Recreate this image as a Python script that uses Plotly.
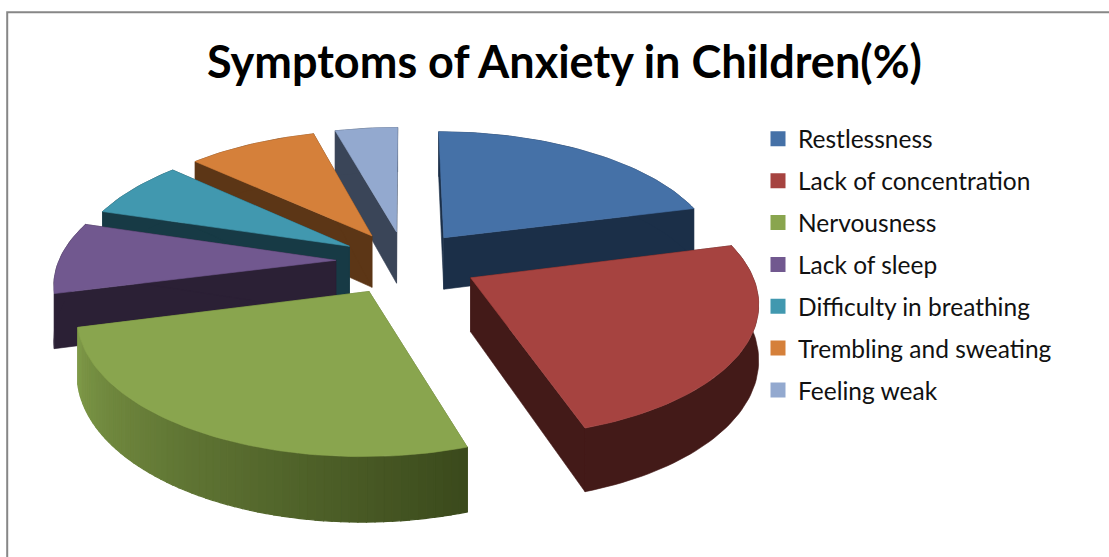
import math
import plotly.graph_objects as go

categories = ["Restlessness", "Lack of concentration", "Nervousness", "Lack of sleep",
              "Difficulty in breathing", "Trembling and sweating", "Feeling weak"]
values = [21, 24, 26, 8.7, 7.1, 8.9, 4.3]
pulls = [0.235, 0.265, 0.26, 0.25, 0.235, 0.235, 0.235]
top_colors = ["#4571a7", "#a64340", "#89a54e", "#71588f", "#4198af", "#d5803a", "#93a9cf"]
side_colors = ["#1b2f48", "#431a18", "#5d7234", "#2b2035", "#173a45", "#5c3616", "#3a4558"]
draw_order = [6, 5, 4, 0, 3, 1, 2]

CX, CY = 405, 261
RX, RY = 277, 129
K = 0.155
THICK = 53


def project(X, Y, down=0.0):
    p = 1 / (1 + K * Y)
    return CX + RX * X * p, CY - RY * Y * p + down * THICK * p


def poly(pts, color, fig, width=0.6):
    xs = [q[0] for q in pts] + [pts[0][0]]
    ys = [q[1] for q in pts] + [pts[0][1]]
    fig.add_trace(go.Scatter(x=xs, y=ys, mode="lines", fill="toself", fillcolor=color,
                             line=dict(color=color, width=width), showlegend=False,
                             hoverinfo="skip"))


def mix(a, b, t):
    ca = [int(a[i:i + 2], 16) for i in (1, 3, 5)]
    cb = [int(b[i:i + 2], 16) for i in (1, 3, 5)]
    return "#" + "".join(f"{round(u + (v - u) * t):02x}" for u, v in zip(ca, cb))


fig = go.Figure()
for name, col in zip(categories, top_colors):
    fig.add_trace(go.Scatter(x=[None], y=[None], mode="markers", name=name, legendgroup=name,
                             marker=dict(symbol="square", size=15, color=col)))

total = sum(values)
starts = [sum(values[:i]) / total * 2 * math.pi for i in range(len(values))]
for i in draw_order:
    a0 = starts[i]
    a1 = a0 + values[i] / total * 2 * math.pi
    mid = (a0 + a1) / 2
    ox, oy = pulls[i] * math.sin(mid), pulls[i] * math.cos(mid)
    n = max(6, int((a1 - a0) * 40))
    angs = [a0 + (a1 - a0) * j / n for j in range(n + 1)]
    rim = [(ox + math.sin(a), oy + math.cos(a)) for a in angs]
    apex = (ox, oy)
    # radial walls
    for e in (rim[0], rim[-1]):
        poly([project(*apex), project(*e), project(*e, 1), project(*apex, 1)], side_colors[i], fig)
    # outer wall
    if i == 2:
        for j in range(n):
            c = mix("#3b4a1c", "#7f9a48", j / (n - 1))
            poly([project(*rim[j]), project(*rim[j + 1]), project(*rim[j + 1], 1), project(*rim[j], 1)],
                 c, fig, width=1.2)
    else:
        poly([project(*r) for r in rim] + [project(*r, 1) for r in reversed(rim)], side_colors[i], fig)
    # top face
    poly([project(*apex)] + [project(*r) for r in rim], top_colors[i], fig)

fig.update_layout(
    width=1109, height=557, margin=dict(l=0, r=0, t=0, b=0),
    paper_bgcolor="white", plot_bgcolor="white",
    font=dict(family="Lato", color="#111111"),
    title=dict(text="<b>Symptoms of Anxiety in Children(%)</b>", x=0.509, xanchor="center",
               y=0.888, yanchor="middle", font=dict(family="Lato", size=45, color="black")),
    xaxis=dict(range=[0, 1109], visible=False, fixedrange=True),
    yaxis=dict(range=[557, 0], visible=False, fixedrange=True),
    legend=dict(x=0.6835, y=0.791, xanchor="left", yanchor="top", font=dict(size=24.5),
                tracegroupgap=7, traceorder="grouped", itemclick=False, bgcolor="rgba(0,0,0,0)"),
    shapes=[dict(type="rect", xref="paper", yref="paper", x0=0.0065, x1=1.02, y0=-0.03, y1=0.978,
                 line=dict(color="#878787", width=2))],
)
fig.write_html("out.html", config={"displayModeBar": False},
               post_script="document.body.style.margin='0';")
